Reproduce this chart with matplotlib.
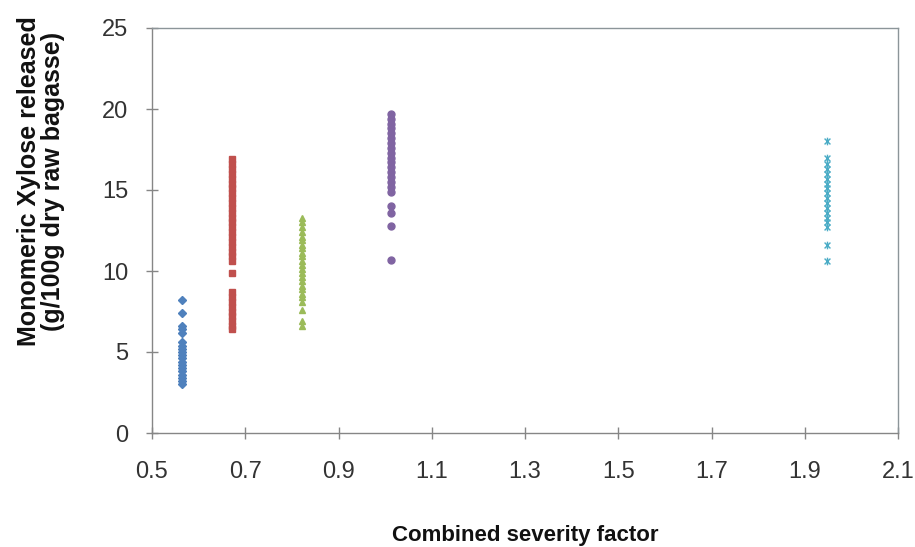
import matplotlib
matplotlib.use("Agg")
import matplotlib.pyplot as plt
from matplotlib.path import Path

plt.rcParams['font.family'] = ['Liberation Sans', 'DejaVu Sans']

# Combined severity factor for each pretreatment condition
x_blue = 0.565
x_red = 0.671
x_green = 0.822
x_purple = 1.012
x_cyan = 1.948

# Monomeric xylose released (g/100g dry raw bagasse)
y_blue = [8.2, 7.4, 6.6, 6.4, 6.2, 5.6, 5.4, 5.2, 5.0, 4.8, 4.6, 4.4, 4.2,
          4.0, 3.8, 3.6, 3.4, 3.2, 3.0]
y_red = [16.9, 16.6, 16.3, 16.0, 15.7, 15.4, 15.1, 14.8, 14.5, 14.2, 13.9,
         13.6, 13.3, 13.0, 12.7, 12.4, 12.1, 11.8, 11.5, 11.2, 10.9, 10.6,
         9.9, 8.7, 8.4, 8.1, 7.8, 7.5, 7.2, 6.9, 6.6, 6.4]
y_green = [13.3, 13.0, 12.7, 12.4, 12.1, 11.9, 11.6, 11.4, 11.1, 10.9, 10.6,
           10.4, 10.1, 9.9, 9.6, 9.4, 9.1, 8.9, 8.6, 8.4, 8.1, 7.6, 6.9, 6.6]
y_purple = [19.7, 19.4, 19.1, 18.8, 18.5, 18.2, 17.9, 17.6, 17.3, 17.0, 16.7,
            16.4, 16.1, 15.8, 15.5, 15.2, 14.9, 14.0, 13.6, 12.8, 10.7]
y_cyan = [18.0, 17.0, 16.6, 16.3, 16.0, 15.7, 15.4, 15.1, 14.8, 14.5, 14.2,
          13.9, 13.6, 13.3, 13.0, 12.7, 11.6, 10.6]

x_ticks = [0.5, 0.7, 0.9, 1.1, 1.3, 1.5, 1.7, 1.9, 2.1]
y_ticks = [0, 5, 10, 15, 20, 25]

star = Path([(-1, -1), (1, 1), (-1, 1), (1, -1), (0, -1.3), (0, 1.3)],
            [Path.MOVETO, Path.LINETO, Path.MOVETO, Path.LINETO,
             Path.MOVETO, Path.LINETO])

fig = plt.figure(figsize=(9.15, 5.47), dpi=100)
ax = fig.add_axes([152/915, 1 - 433/547, (898 - 152)/915, (433 - 28)/547])

ax.plot([x_blue]*len(y_blue), y_blue, linestyle='none', marker='D',
        markersize=4.2, color='#4F81BD')
ax.plot([x_red]*len(y_red), y_red, linestyle='none', marker='s',
        markersize=4.4, color='#C0504D')
ax.plot([x_green]*len(y_green), y_green, linestyle='none', marker='^',
        markersize=5, color='#9BBB59')
ax.plot([x_purple]*len(y_purple), y_purple, linestyle='none', marker='o',
        markersize=5, color='#8064A2')
ax.plot([x_cyan]*len(y_cyan), y_cyan, linestyle='none', marker=star,
        markersize=5.5, markeredgewidth=1.0, color='#4BACC6',
        markerfacecolor='none')

ax.set_xlim(0.5, 2.1)
ax.set_ylim(0, 25)
ax.set_xticks(x_ticks)
ax.set_xticklabels([f"{v:.1f}" for v in x_ticks])
ax.set_yticks(y_ticks)
ax.set_yticklabels([str(v) for v in y_ticks])

for side in ['left', 'bottom']:
    ax.spines[side].set_color('#868686')
    ax.spines[side].set_linewidth(1.0)
for side in ['top', 'right']:
    ax.spines[side].set_color('#8c9599')
    ax.spines[side].set_linewidth(1.0)

ax.tick_params(axis='both', direction='inout', length=8, width=1.0,
               color='#868686', labelsize=17, labelcolor='#333333')
ax.tick_params(axis='x', pad=16)
ax.tick_params(axis='y', pad=13)

fig.text(525/915, 1 - 535/547, 'Combined severity factor', ha='center',
         va='center', fontsize=16, fontweight='bold', color='#111111')
fig.text(41/915, 1 - 181/547,
         'Monomeric Xylose released\n(g/100g dry raw bagasse)',
         ha='center', va='center', rotation=90, fontsize=18,
         fontweight='bold', color='#111111', linespacing=1.0)

fig.savefig('out.png', dpi=100)
